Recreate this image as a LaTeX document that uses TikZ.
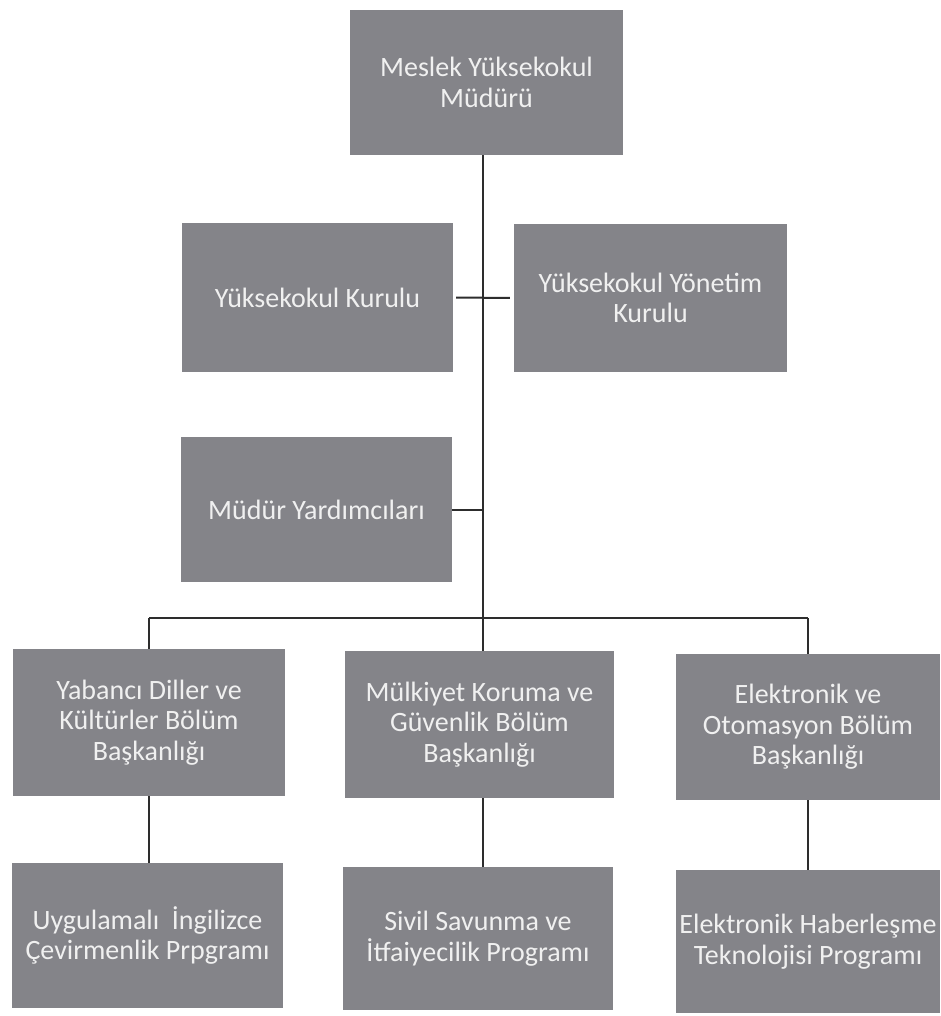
\documentclass[tikz,border=0pt]{standalone}
\usepackage{fontspec}
\setmainfont{Carlito}
\definecolor{boxgray}{RGB}{132,132,137}
\definecolor{boxtext}{RGB}{240,240,240}
\definecolor{linegray}{RGB}{45,45,45}
\tikzset{
  box/.style={draw=none, fill=boxgray, text=boxtext, align=center, inner sep=0pt,
    font=\fontsize{28}{30.5}\selectfont},
  conn/.style={draw=linegray, line width=2pt}
}
\begin{document}
\begin{tikzpicture}[x=1pt,y=1pt]
\useasboundingbox[fill=white] (0,0) rectangle (940,-1016);
\node[box, minimum width=273pt, minimum height=145pt] (top) at (486.5,-82.5) {Meslek Yüksekokul\\Müdürü};
\node[box, minimum width=271pt, minimum height=149pt] (yk) at (317.5,-297.5) {Yüksekokul Kurulu};
\node[box, minimum width=273pt, minimum height=148pt] (ytk) at (650.5,-298) {Yüksekokul Yönetim\\Kurulu};
\node[box, minimum width=271pt, minimum height=145pt] (md) at (316.5,-509.5) {Müdür Yardımcıları};
\node[box, minimum width=272pt, minimum height=147pt] (b1) at (149,-722.5) {Yabancı Diller ve\\Kültürler Bölüm\\Başkanlığı};
\node[box, minimum width=269pt, minimum height=147pt] (b2) at (479.5,-724.5) {Mülkiyet Koruma ve\\Güvenlik Bölüm\\Başkanlığı};
\node[box, minimum width=264pt, minimum height=146pt] (b3) at (808,-727) {Elektronik ve\\Otomasyon Bölüm\\Başkanlığı};
\node[box, minimum width=271pt, minimum height=145pt] (p1) at (147.5,-935.5) {Uygulamalı\ \ İngilizce\\Çevirmenlik Prpgramı};
\node[box, minimum width=270pt, minimum height=143pt] (p2) at (478,-938.5) {Sivil Savunma ve\\İtfaiyecilik Programı};
\node[box, minimum width=264pt, minimum height=143pt] (p3) at (808,-941.5) {Elektronik Haberleşme\\Teknolojisi Programı};
\coordinate (tx) at (483,0);
\coordinate (bus) at (0,-618);
\draw[conn] (top.south -| tx) -- (b2.north -| tx);
\draw[conn, shorten <=3pt, shorten >=4pt] (yk.east) -- (ytk.west);
\draw[conn] (md.east) -- (md.east -| tx);
\draw[conn] (b1.north |- bus) -- (b3.north |- bus);
\draw[conn] (b1.north |- bus) -- (b1.north);
\draw[conn] (b3.north |- bus) -- (b3.north);
\draw[conn] (b1.south) -- (b1.south |- p1.north);
\draw[conn] (b2.south -| tx) -- (p2.north -| tx);
\draw[conn] (b3.south) -- (b3.south |- p3.north);
\end{tikzpicture}
\end{document}
